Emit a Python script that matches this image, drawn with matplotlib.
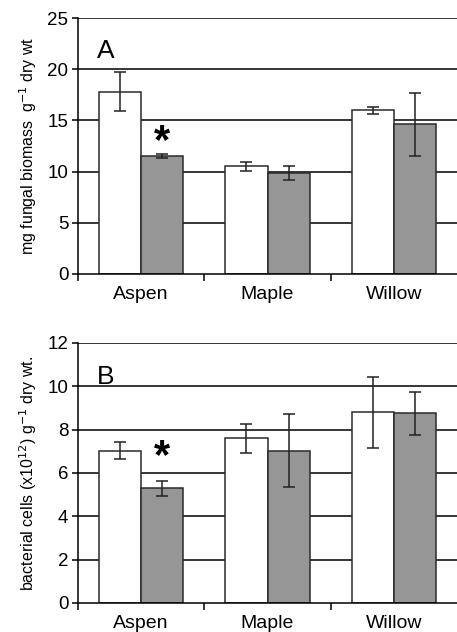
import numpy as np
import matplotlib.pyplot as plt

plt.rcParams['font.family'] = ['Liberation Sans', 'DejaVu Sans']

categories = ['Aspen', 'Maple', 'Willow']

fungal_white = [17.8, 10.5, 16.0]
fungal_white_err = [1.9, 0.4, 0.35]
fungal_gray = [11.5, 9.85, 14.6]
fungal_gray_err = [0.18, 0.65, 3.1]

bact_white = [7.03, 7.6, 8.8]
bact_white_err = [0.4, 0.68, 1.65]
bact_gray = [5.3, 7.02, 8.75]
bact_gray_err = [0.35, 1.68, 1.0]

fig = plt.figure(figsize=(4.57, 6.32), dpi=100)
ax1 = fig.add_axes([0.1707, 0.5665, 0.8293, 0.405])
ax2 = fig.add_axes([0.1707, 0.0459, 0.8293, 0.4114])

x = np.arange(len(categories))
w = 1 / 3


def draw(ax, white, white_err, gray, gray_err, ymax, step, ylabel, letter, star_y):
    ax.set_axisbelow(True)
    for yv in np.arange(step, ymax + step / 2, step):
        ax.axhline(yv, color='black', lw=1.1, zorder=0)
    ax.bar(x - w / 2, white, w, color='white', edgecolor='#2a2a2a', lw=1.1, zorder=2)
    ax.bar(x + w / 2, gray, w, color='#969696', edgecolor='#2a2a2a', lw=1.1, zorder=2)
    ax.errorbar(x - w / 2, white, yerr=white_err, fmt='none', ecolor='#222222',
                elinewidth=1.1, capsize=4.5, capthick=1.1, zorder=3)
    ax.errorbar(x + w / 2, gray, yerr=gray_err, fmt='none', ecolor='#222222',
                elinewidth=1.1, capsize=4.5, capthick=1.1, zorder=3)
    ax.set_xlim(-0.5, 2.5)
    ax.set_ylim(0, ymax)
    ax.set_yticks(np.arange(0, ymax + step / 2, step))
    ax.set_xticks(x)
    ax.set_xticklabels(categories, fontsize=14)
    ax.set_xticks([-0.5, 0.5, 1.5], minor=True)
    ax.tick_params(axis='x', which='major', length=0, pad=9)
    ax.tick_params(axis='x', which='minor', length=5, width=1.1, direction='out')
    ax.tick_params(axis='y', length=4, width=1.1, labelsize=13.5, pad=3)
    for side in ['top', 'right']:
        ax.spines[side].set_visible(False)
    ax.spines['left'].set_linewidth(1.1)
    ax.spines['bottom'].set_linewidth(1.1)
    ax.set_ylabel(ylabel, fontsize=11.5, labelpad=6)
    ax.text(0.05, 0.87, letter, transform=ax.transAxes, fontsize=19, va='center')
    ax.text(w / 2, star_y, '*', fontsize=30, fontweight='bold', ha='center', va='center')


draw(ax1, fungal_white, fungal_white_err, fungal_gray, fungal_gray_err, 25, 5,
     'mg fungal biomass  g$^{-1}$ dry wt', 'A', 12.9)
draw(ax2, bact_white, bact_white_err, bact_gray, bact_gray_err, 12, 2,
     'bacterial cells (x10$^{12}$) g$^{-1}$ dry wt.', 'B', 6.75)

fig.savefig('out.png', dpi=100)
